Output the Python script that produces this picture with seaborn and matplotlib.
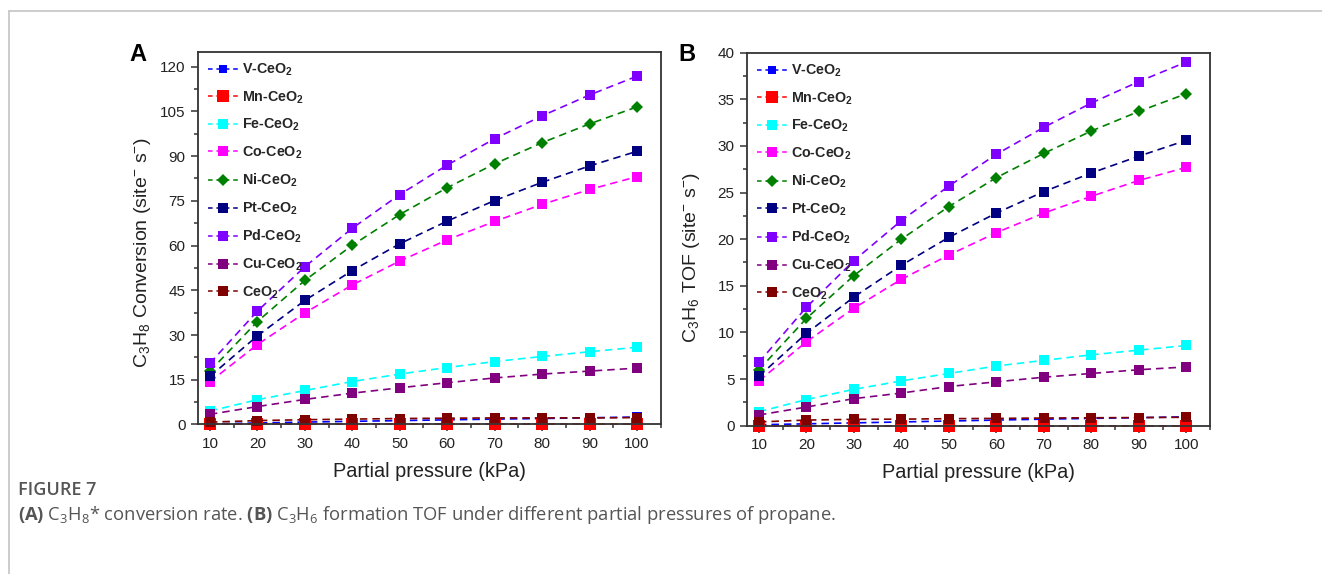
import matplotlib
matplotlib.use("Agg")
import matplotlib.pyplot as plt
import seaborn as sns
from matplotlib.ticker import MultipleLocator
from matplotlib.lines import Line2D

sns.set_style("white")
plt.rcParams['font.family'] = ['Liberation Sans', 'DejaVu Sans']
plt.rcParams['mathtext.default'] = 'regular'

pressure = [10, 20, 30, 40, 50, 60, 70, 80, 90, 100]
catalysts = ["V-CeO$_2$", "Mn-CeO$_2$", "Fe-CeO$_2$", "Co-CeO$_2$", "Ni-CeO$_2$",
             "Pt-CeO$_2$", "Pd-CeO$_2$", "Cu-CeO$_2$", "CeO$_2$"]

# panel A: C3H8 conversion
V_A = [0.2, 0.5, 0.8, 1.05, 1.3, 1.55, 1.8, 2.0, 2.25, 2.5]
Mn_A = [0.0, 0.0, 0.0, 0.0, 0.0, 0.0, 0.0, 0.0, 0.0, 0.0]
Fe_A = [4.5, 8.3, 11.4, 14.4, 16.9, 19.1, 21.1, 22.8, 24.4, 25.9]
Co_A = [14.3, 26.8, 37.4, 46.8, 54.8, 61.9, 68.1, 73.8, 78.8, 83.1]
Ni_A = [17.9, 34.5, 48.3, 60.1, 70.4, 79.4, 87.4, 94.5, 100.8, 106.5]
Pt_A = [16.1, 29.7, 41.6, 51.6, 60.6, 68.2, 75.1, 81.2, 86.7, 91.6]
Pd_A = [20.5, 38.0, 52.9, 65.8, 77.1, 87.0, 95.8, 103.5, 110.5, 116.8]
Cu_A = [3.4, 6.0, 8.4, 10.5, 12.3, 14.0, 15.6, 16.9, 17.9, 18.9]
Ce_A = [0.8, 1.3, 1.6, 1.8, 2.0, 2.1, 2.2, 2.2, 2.2, 2.3]

# panel B: C3H6 TOF
V_B = [0.1, 0.2, 0.3, 0.4, 0.5, 0.6, 0.7, 0.78, 0.86, 0.95]
Mn_B = [0.0, 0.0, 0.0, 0.0, 0.0, 0.0, 0.0, 0.0, 0.0, 0.0]
Fe_B = [1.5, 2.8, 3.9, 4.8, 5.6, 6.4, 7.0, 7.6, 8.1, 8.6]
Co_B = [4.8, 9.0, 12.6, 15.7, 18.3, 20.7, 22.8, 24.6, 26.3, 27.7]
Ni_B = [6.0, 11.5, 16.1, 20.0, 23.5, 26.6, 29.2, 31.6, 33.7, 35.6]
Pt_B = [5.3, 9.9, 13.8, 17.2, 20.2, 22.8, 25.1, 27.1, 28.9, 30.6]
Pd_B = [6.8, 12.7, 17.7, 22.0, 25.7, 29.1, 32.0, 34.6, 36.9, 39.0]
Cu_B = [1.15, 2.0, 2.9, 3.5, 4.2, 4.7, 5.2, 5.6, 6.0, 6.3]
Ce_B = [0.4, 0.6, 0.68, 0.7, 0.75, 0.78, 0.82, 0.85, 0.87, 0.9]

colors = ["#0000ff", "#ff0000", "#00ffff", "#ff00ff", "#008000",
          "#000080", "#8000ff", "#800080", "#800000"]
markers = ["s", "s", "s", "s", "D", "s", "s", "s", "s"]
msizes = [6.5, 9, 7.5, 7, 6.5, 7, 7, 7.5, 7.5]

series_A = [V_A, Mn_A, Fe_A, Co_A, Ni_A, Pt_A, Pd_A, Cu_A, Ce_A]
series_B = [V_B, Mn_B, Fe_B, Co_B, Ni_B, Pt_B, Pd_B, Cu_B, Ce_B]

fig = plt.figure(figsize=(13.22, 5.74), dpi=100)
axA = fig.add_axes([0.1498, 0.2605, 0.35, 0.6494])
axB = fig.add_axes([0.5651, 0.2584, 0.3502, 0.6498])

def draw(ax, series, ymax, ystep, ylabel, ylab_y):
    for vals, c, m, ms, lab in zip(series, colors, markers, msizes, catalysts):
        sns.lineplot(ax=ax, x=pressure, y=vals, color=c, marker=m, markersize=ms,
                     markeredgewidth=0, linestyle=(0, (4.5, 3)), linewidth=1.2,
                     errorbar=None, clip_on=False, label=lab, legend=False)
    ax.set_xlim(7.5, 105)
    ax.set_ylim(0, ymax)
    ax.xaxis.set_major_locator(MultipleLocator(10))
    ax.xaxis.set_minor_locator(MultipleLocator(5))
    ax.yaxis.set_major_locator(MultipleLocator(ystep))
    ax.yaxis.set_minor_locator(MultipleLocator(ystep / 2))
    ax.tick_params(which='both', direction='out', bottom=True, left=True,
                   top=False, right=False, color='#333333', width=1.1)
    ax.tick_params(which='major', length=5, labelsize=11, labelcolor='#222222', pad=4)
    ax.tick_params(which='minor', length=3)
    for s in ax.spines.values():
        s.set_color('#333333')
        s.set_linewidth(1.3)
    ax.set_xlabel("Partial pressure (kPa)", fontsize=14.3, color='#222222', labelpad=8)
    ax.set_ylabel(ylabel, fontsize=14, color='#222222')
    ax.yaxis.set_label_coords(-0.098, ylab_y)
    handles = [Line2D([], [], color=c, marker=m, markersize=ms * 0.95, markeredgewidth=0,
                      linestyle=(0, (3, 2.5)), linewidth=1.1)
               for c, m, ms in zip(colors, markers, msizes)]
    ax.legend(handles, catalysts, loc='upper left', frameon=False, handlelength=2.1,
              handletextpad=0.3, labelspacing=0.78, borderaxespad=0.3,
              prop={'family': ['Liberation Sans Narrow', 'Liberation Sans'],
                    'weight': 'bold', 'size': 10.3})

draw(axA, series_A, 125, 15, "C$_3$H$_8$ Conversion (site$^{-}$ s$^{-}$)", 0.46)
draw(axB, series_B, 40, 5, "C$_3$H$_6$ TOF (site$^{-}$ s$^{-}$)", 0.45)

fig.text(0.098, 0.893, "A", fontsize=17, fontweight='bold', color='black')
fig.text(0.513, 0.893, "B", fontsize=17, fontweight='bold', color='black')

# page frame lines
fig.add_artist(Line2D([9 / 1322, 1], [1 - 11 / 574, 1 - 11 / 574], color='#c4c4c4', linewidth=1.2))
fig.add_artist(Line2D([9 / 1322, 9 / 1322], [0, 1 - 11 / 574], color='#c4c4c4', linewidth=1.2))

cap_font = ['Open Sans', 'DejaVu Sans']
fig.text(18 / 1322, 1 - 490 / 574, "FIGURE 7", fontsize=13, fontweight='semibold',
         color='#555555', family=cap_font, va='center')
plt.rcParams['mathtext.fontset'] = 'custom'
plt.rcParams['mathtext.rm'] = 'Open Sans'
plt.rcParams['mathtext.bf'] = 'Open Sans:bold'
fig.text(18 / 1322, 1 - 515 / 574,
         r"$\mathbf{(A)}$ C$_3$H$_8$* conversion rate. $\mathbf{(B)}$ C$_3$H$_6$ formation TOF under different partial pressures of propane.",
         fontsize=13.2, color='#555555', family=cap_font, va='center')

fig.savefig("out.png", dpi=100, facecolor='white')
